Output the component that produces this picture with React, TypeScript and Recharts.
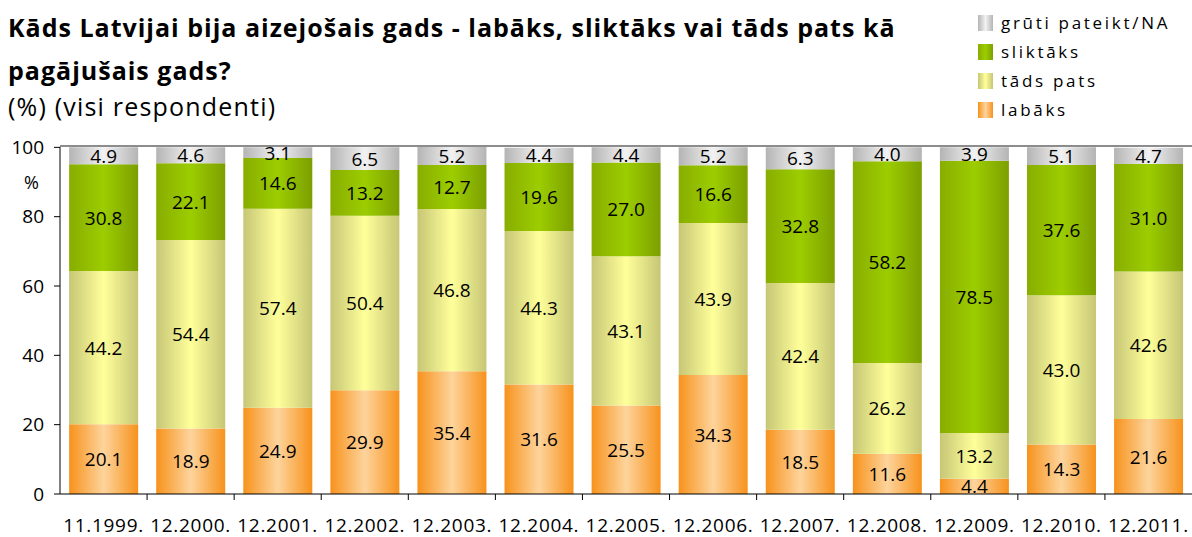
import React from 'react';
import { BarChart, Bar, XAxis, YAxis, CartesianGrid, LabelList } from 'recharts';

const periods = ['11.1999.', '12.2000.', '12.2001.', '12.2002.', '12.2003.', '12.2004.', '12.2005.', '12.2006.', '12.2007.', '12.2008.', '12.2009.', '12.2010.', '12.2011.'];
const labaks = [20.1, 18.9, 24.9, 29.9, 35.4, 31.6, 25.5, 34.3, 18.5, 11.6, 4.4, 14.3, 21.6];
const tadsPats = [44.2, 54.4, 57.4, 50.4, 46.8, 44.3, 43.1, 43.9, 42.4, 26.2, 13.2, 43.0, 42.6];
const sliktaks = [30.8, 22.1, 14.6, 13.2, 12.7, 19.6, 27.0, 16.6, 32.8, 58.2, 78.5, 37.6, 31.0];
const gruti = [4.9, 4.6, 3.1, 6.5, 5.2, 4.4, 4.4, 5.2, 6.3, 4.0, 3.9, 5.1, 4.7];
const yTicks = [0, 20, 40, 60, 80, 100];

const data = periods.map((p, i) => ({
  period: p,
  labaks: labaks[i],
  tadsPats: tadsPats[i],
  sliktaks: sliktaks[i],
  gruti: gruti[i],
}));

const W = 1192;
const H = 537;
const LEFT = 60;
const RIGHT = 0;
const BAND = (W - LEFT - RIGHT) / periods.length;
const FONT = '"Open Sans", "Noto Sans", sans-serif';

// edge / centre / edge colours of the horizontal gradient in each segment
const series = [
  { key: 'labaks', name: 'labāks', stops: ['#f7921c', '#fdd49c', '#f7921c'] },
  { key: 'tadsPats', name: 'tāds pats', stops: ['#c6c676', '#ffff9a', '#c6c676'] },
  { key: 'sliktaks', name: 'sliktāks', stops: ['#88ad00', '#9ccd00', '#7c9f00'] },
  { key: 'gruti', name: 'grūti pateikt/NA', stops: ['#b4b4b4', '#f2f2f2', '#b4b4b4'] },
];

const XTick = (props: any) => {
  const { x, y, payload, index } = props;
  return (
    <g>
      {index > 0 && <line x1={x - BAND / 2} x2={x - BAND / 2} y1={y - 8} y2={y - 2} stroke="#000" />}
      <text x={x} y={y + 30} textAnchor="middle" fontSize={19} letterSpacing={0.7} fill="#000" fontFamily={FONT}>
        {payload.value}
      </text>
    </g>
  );
};

const ValueLabel = (props: any) => {
  const { x, y, width, height, value } = props;
  return (
    <text x={x + width / 2} y={y + height / 2} dy={7} textAnchor="middle" fontSize={19} fill="#000" fontFamily={FONT}>
      {Number(value).toFixed(1)}
    </text>
  );
};

export default function App() {
  return (
    <div style={{ position: 'fixed', left: 0, top: 0, width: W, height: H, background: '#fff', fontFamily: FONT }}>
      <div style={{ position: 'absolute', left: 8, top: 6, fontSize: 25, fontWeight: 700, lineHeight: '43px', letterSpacing: 1, color: '#000', whiteSpace: 'nowrap' }}>
        Kāds Latvijai bija aizejošais gads - labāks, sliktāks vai tāds pats kā
        <br />
        pagājušais gads?
      </div>
      <div style={{ position: 'absolute', left: 8, top: 89, fontSize: 25, letterSpacing: 1.2, color: '#000' }}>(%) (visi respondenti)</div>

      <div style={{ position: 'absolute', left: 978, top: 8 }}>
        {[...series].reverse().map((s) => (
          <div key={s.key} style={{ display: 'flex', alignItems: 'center', height: 29 }}>
            <div
              style={{
                width: 15,
                height: 16,
                marginRight: 8,
                background: `linear-gradient(to right, ${s.stops[0]}, ${s.stops[1]}, ${s.stops[2]})`,
              }}
            />
            <span style={{ fontSize: 17, letterSpacing: 2.7, color: '#000' }}>{s.name}</span>
          </div>
        ))}
      </div>

      <div style={{ position: 'absolute', left: 24, top: 170, fontSize: 18, color: '#000' }}>%</div>

      <div style={{ position: 'absolute', left: 0, top: 0 }}>
        <BarChart width={W} height={H} data={data} margin={{ top: 147, right: RIGHT, bottom: 0, left: 0 }} barCategoryGap="10.5%">
          <defs>
            {series.map((s) => (
              <linearGradient key={s.key} id={`g-${s.key}`} x1="0" y1="0" x2="1" y2="0">
                <stop offset="0%" stopColor={s.stops[0]} />
                <stop offset="50%" stopColor={s.stops[1]} />
                <stop offset="100%" stopColor={s.stops[2]} />
              </linearGradient>
            ))}
          </defs>
          <CartesianGrid
            vertical={false}
            stroke="#8c8c8c"
            strokeWidth={2}
            horizontalCoordinatesGenerator={({ offset }: any) => [offset.top - 1]}
          />
          <XAxis
            dataKey="period"
            tick={<XTick />}
            tickLine={false}
            axisLine={{ stroke: '#000' }}
            interval={0}
            height={43}
          />
          <YAxis
            domain={[0, 100]}
            ticks={yTicks}
            width={LEFT}
            axisLine={{ stroke: '#000' }}
            tickLine={{ stroke: '#000' }}
            tickSize={6}
            tickMargin={10}
            tick={{ fill: '#000', fontSize: 19, fontFamily: FONT }}
          />
          {series.map((s) => (
            <Bar key={s.key} dataKey={s.key} name={s.name} stackId="a" fill={`url(#g-${s.key})`} isAnimationActive={false}>
              <LabelList dataKey={s.key} content={<ValueLabel />} />
            </Bar>
          ))}
        </BarChart>
      </div>
    </div>
  );
}
